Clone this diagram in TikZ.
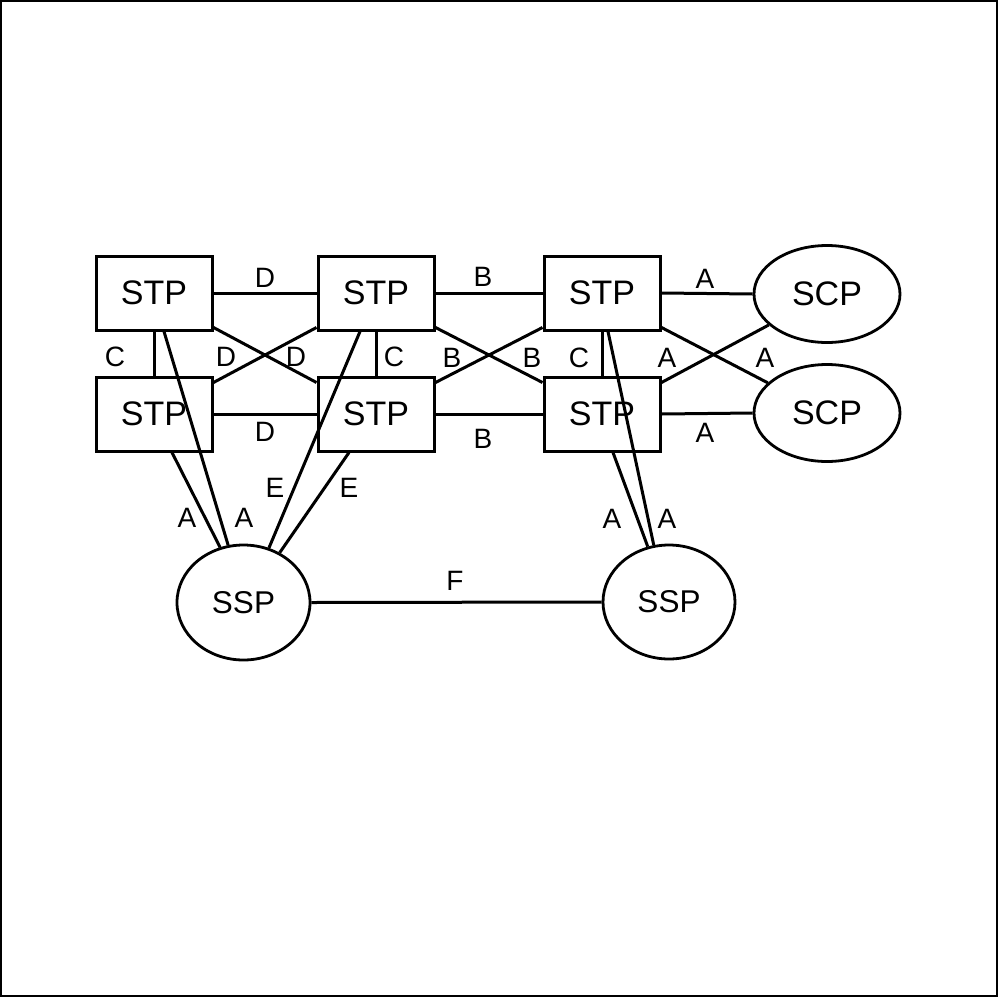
\documentclass[tikz,border=0pt]{standalone}
\usepackage{fontspec}
\setmainfont{Liberation Sans}
\usetikzlibrary{shapes.geometric}
\begin{document}
\begin{tikzpicture}[x=1pt,y=-1pt,
  stpbox/.style={draw,line width=3pt,minimum width=116pt,minimum height=74pt,inner sep=0pt,font=\fontsize{34}{34}\selectfont},
  scpell/.style={draw,ellipse,line width=2.8pt,minimum width=146pt,minimum height=97pt,inner sep=0pt,font=\fontsize{34}{34}\selectfont},
  sspell/.style={draw,ellipse,line width=2.8pt,minimum width=133pt,minimum height=115pt,inner sep=0pt,font=\fontsize{31.5}{31.5}\selectfont},
  link/.style={line width=3pt},
  lbl/.style={inner sep=0pt,font=\fontsize{28}{28}\selectfont}]
\useasboundingbox (0,0) rectangle (1000,998);
\draw[line width=2pt] (1,1) rectangle (997,996);
% nodes
\node[stpbox] (t1) at (154,293) {STP};
\node[stpbox] (t2) at (376,293) {STP};
\node[stpbox] (t3) at (602,293) {STP};
\node[stpbox] (b1) at (154,414) {STP};
\node[stpbox] (b2) at (376,414) {STP};
\node[stpbox] (b3) at (602,414) {STP};
\node[scpell] (c1) at (827,294) {SCP};
\node[scpell] (c2) at (827,413) {SCP};
\node[sspell] (s1) at (243.5,602.5) {SSP};
\node[sspell,minimum width=132pt,minimum height=114pt] (s2) at (669,602) {SSP};
% horizontal links
\draw[link] (t1.east) -- (t2.west);
\draw[link] (t2.east) -- (t3.west);
\draw[link] (t3.east) -- (c1.west);
\draw[link] (b1.east) -- (b2.west);
\draw[link] (b2.east) -- (b3.west);
\draw[link] (b3.east) -- (c2.west);
% vertical C links
\draw[link] (t1.south) -- (b1.north);
\draw[link] (t2.south) -- (b2.north);
\draw[link] (t3.south) -- (b3.north);
% crosses
\draw[link] ([yshift=4pt]t1.south east) -- ([yshift=-7pt]b2.north west);
\draw[link] ([yshift=4pt]t2.south west) -- ([yshift=-7pt]b1.north east);
\draw[link] ([yshift=4pt]t2.south east) -- ([yshift=-7pt]b3.north west);
\draw[link] ([yshift=4pt]t3.south west) -- ([yshift=-7pt]b2.north east);
\draw[link] ([yshift=4pt]t3.south east) -- (c2.153);
\draw[link] (c1.208) -- ([yshift=-7pt]b3.north east);
% SSP links
\draw[link] ([xshift=18pt]b1.south) -- (s1.113);
\draw[link] ([xshift=10pt]t1.south) -- (s1.105);
\draw[link] ([xshift=-16pt]t2.south) -- (s1.65);
\draw[link] ([xshift=-27pt]b2.south) -- (s1.54);
\draw[link] ([xshift=11pt]b3.south) -- (s2.111);
\draw[link] ([xshift=6pt]t3.south) -- (s2.105);
\draw[link] (s1.east) -- (s2.west);
% labels
\node[lbl] (lD1) at (265,278) {D};
\node[lbl] (lB1) at (483,277) {B};
\node[lbl] (lA1) at (705,279) {A};
\node[lbl] (lC1) at (115,357) {C};
\node[lbl] (lD2) at (226,357) {D};
\node[lbl] (lD3) at (296,357) {D};
\node[lbl] (lC2) at (394,357) {C};
\node[lbl] (lB2) at (452,358) {B};
\node[lbl] (lB3) at (532,358) {B};
\node[lbl] (lC3) at (579,358) {C};
\node[lbl] (lA2) at (667,358) {A};
\node[lbl] (lA3) at (765,358) {A};
\node[lbl] (lD4) at (265,432) {D};
\node[lbl] (lB4) at (483,439) {B};
\node[lbl] (lA4) at (705,433) {A};
\node[lbl] (lA5) at (187,518) {A};
\node[lbl] (lA6) at (244,518) {A};
\node[lbl] (lE1) at (275,488) {E};
\node[lbl] (lE2) at (349,488) {E};
\node[lbl] (lA7) at (612,519) {A};
\node[lbl] (lA8) at (667,519) {A};
\node[lbl] (lF) at (455,581) {F};
\end{tikzpicture}
\end{document}
